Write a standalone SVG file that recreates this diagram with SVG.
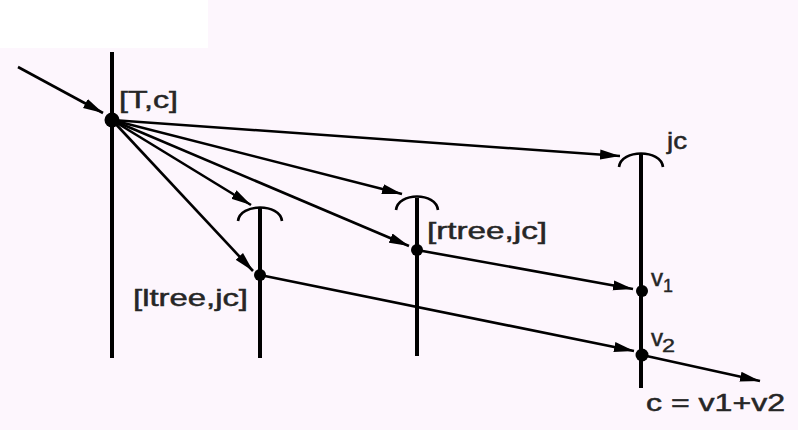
<svg xmlns="http://www.w3.org/2000/svg" width="798" height="430" viewBox="0 0 798 430">
<style>
.bar{stroke:#000;stroke-width:4;fill:none;stroke-linecap:butt}
.arc{stroke:#000;stroke-width:2.6;fill:none}
.arr{stroke:#000;stroke-width:2.6;fill:none;marker-end:url(#ah)}
.dot{fill:#000}
.lbl{font-family:"Liberation Sans",Arial,sans-serif;font-size:24px;fill:#262626;stroke:#262626;stroke-width:0.5}
.sub{font-family:"Liberation Sans",Arial,sans-serif;font-size:18px;fill:#262626;stroke:#262626;stroke-width:0.4}
</style>
<defs>
<marker id="ah" markerUnits="userSpaceOnUse" markerWidth="22" markerHeight="11" refX="20" refY="5.5" orient="auto">
<path d="M0,0.5 L20,5.5 L0,10.5 z" fill="#000"/>
</marker>
</defs>
<rect x="0" y="0" width="798" height="430" fill="#fdf6fd"/>
<rect x="0" y="0" width="208" height="48" fill="#ffffff"/>
<g id="node-T">
<line class="bar" x1="112" y1="52" x2="112" y2="358"/>
<circle class="dot" cx="112" cy="120" r="7.5"/>
<text class="lbl" x="119" y="108" textLength="59" lengthAdjust="spacingAndGlyphs">[T,c]</text>
</g>
<g id="node-ltree">
<line class="bar" x1="260" y1="208" x2="260" y2="358"/>
<path class="arc" d="M238,221 C240,203 280,203 282,221"/>
<circle class="dot" cx="260" cy="275" r="6"/>
<text class="lbl" x="133" y="306" textLength="115" lengthAdjust="spacingAndGlyphs">[ltree,jc]</text>
</g>
<g id="node-rtree">
<line class="bar" x1="417" y1="198" x2="417" y2="356"/>
<path class="arc" d="M396,210 C398,192 436,192 438,210"/>
<circle class="dot" cx="417" cy="250" r="6"/>
<text class="lbl" x="427" y="239" textLength="120" lengthAdjust="spacingAndGlyphs">[rtree,jc]</text>
</g>
<g id="node-jc">
<line class="bar" x1="641" y1="153" x2="641" y2="388"/>
<path class="arc" d="M619,167 C621,149 661,149 663,167"/>
<text class="lbl" x="667" y="149" textLength="20" lengthAdjust="spacingAndGlyphs">jc</text>
</g>
<g id="node-v1">
<circle class="dot" cx="642" cy="291" r="6"/>
<text class="lbl" x="651" y="286" textLength="12" lengthAdjust="spacingAndGlyphs">v</text>
<text class="sub" x="663" y="292" textLength="10" lengthAdjust="spacingAndGlyphs">1</text>
</g>
<g id="node-v2">
<circle class="dot" cx="642" cy="355" r="6.5"/>
<text class="lbl" x="651" y="346" textLength="12" lengthAdjust="spacingAndGlyphs">v</text>
<text class="sub" x="662" y="352" textLength="13" lengthAdjust="spacingAndGlyphs">2</text>
</g>
<g id="result">
<text class="lbl" x="646" y="411" textLength="139" lengthAdjust="spacingAndGlyphs">c = v1+v2</text>
</g>
<g id="connectors">
<line class="arr" x1="18" y1="67" x2="103" y2="113"/>
<line class="arr" x1="112" y1="120" x2="620" y2="156"/>
<line class="arr" x1="112" y1="120" x2="402" y2="194"/>
<line class="arr" x1="112" y1="120" x2="409" y2="246"/>
<line class="arr" x1="112" y1="120" x2="251" y2="205"/>
<line class="arr" x1="112" y1="120" x2="253" y2="271"/>
<line class="arr" x1="417" y1="250" x2="633" y2="289"/>
<line class="arr" x1="260" y1="275" x2="634" y2="351"/>
<line class="arr" x1="642" y1="355" x2="760" y2="381"/>
</g>
</svg>
